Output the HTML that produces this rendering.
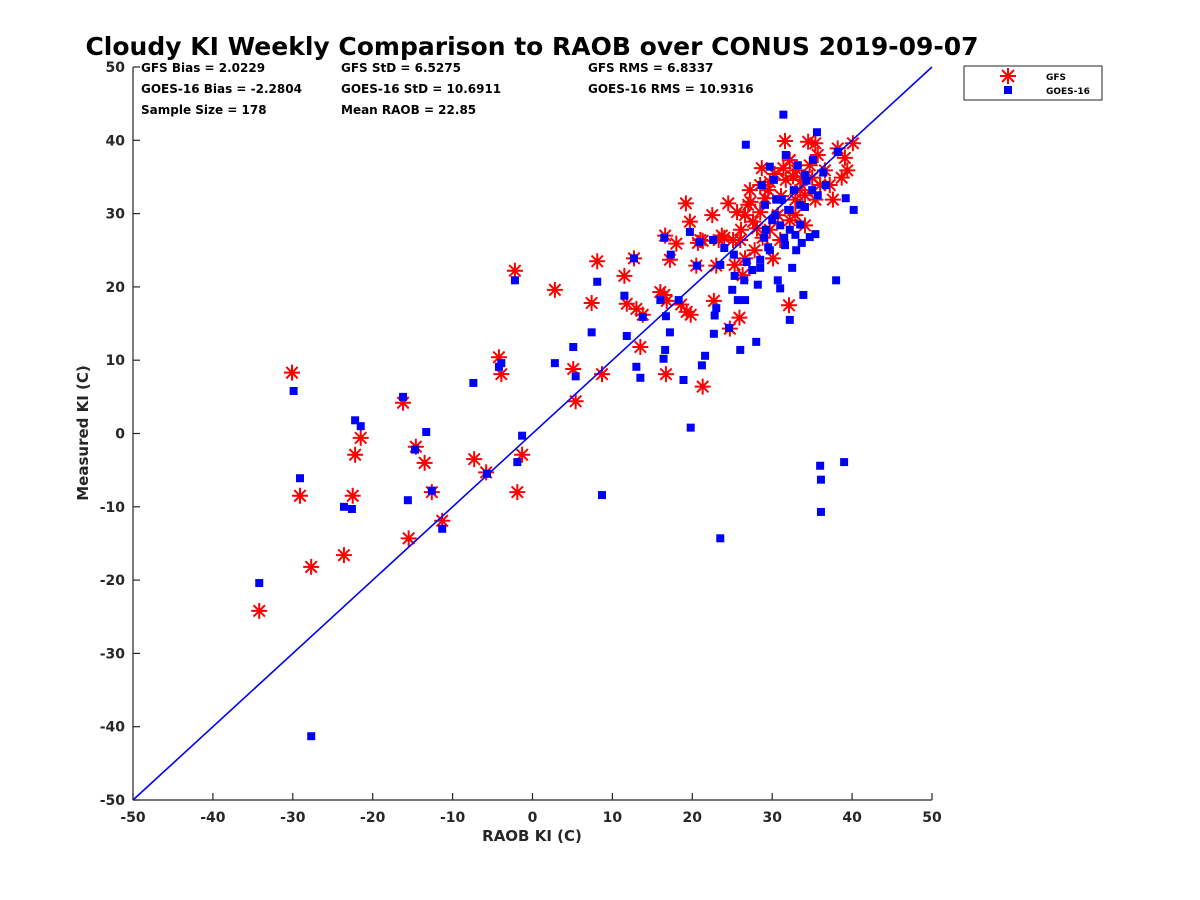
<!DOCTYPE html>
<html><head><meta charset="utf-8"><style>
body{margin:0;background:#fff}
svg{display:block;font-family:"DejaVu Sans","Liberation Sans",sans-serif;font-weight:bold}
</style></head><body>
<svg id="chart" width="1200" height="900" viewBox="0 0 1200 900">
<rect width="1200" height="900" fill="#fff"/>
<text x="532" y="55" text-anchor="middle" font-size="25" fill="#000">Cloudy KI Weekly Comparison to RAOB over CONUS 2019-09-07</text>
<g id="plot"></g>
<g font-size="12" fill="#000">
<text x="141" y="72">GFS Bias = 2.0229</text>
<text x="141" y="93">GOES-16 Bias = -2.2804</text>
<text x="141" y="114">Sample Size = 178</text>
<text x="341" y="72">GFS StD = 6.5275</text>
<text x="341" y="93">GOES-16 StD = 10.6911</text>
<text x="341" y="114">Mean RAOB = 22.85</text>
<text x="588" y="72">GFS RMS = 6.8337</text>
<text x="588" y="93">GOES-16 RMS = 10.9316</text>
</g>
<text x="532" y="841" text-anchor="middle" font-size="15" fill="#262626">RAOB KI (C)</text>
<text transform="translate(88,433) rotate(-90)" text-anchor="middle" font-size="15" fill="#262626">Measured KI (C)</text>
<g>
<rect x="964" y="66" width="138" height="34" fill="#fff" stroke="#262626" stroke-width="1"/>
<g stroke="#f00" stroke-width="2">
<line x1="1008" y1="68" x2="1008" y2="84"/><line x1="1000" y1="76" x2="1016" y2="76"/>
<line x1="1002" y1="70" x2="1014" y2="82"/><line x1="1002" y1="82" x2="1014" y2="70"/>
</g>
<text x="1046" y="80" font-size="9" fill="#000">GFS</text>
<rect x="1004" y="86" width="8" height="8" fill="#00f"/>
<text x="1046" y="94" font-size="9" fill="#000">GOES-16</text>
</g>
</svg>
<script>
const xTicks=[-50,-40,-30,-20,-10,0,10,20,30,40,50];
const yTicks=[-50,-40,-30,-20,-10,0,10,20,30,40,50];
const gfsX=[-30.1,-29.1,-27.7,-34.2,-23.6,-22.5,-22.2,-21.5,-16.2,-15.5,-14.6,-13.5,-12.6,-11.3,-7.3,-5.8,-4.2,-3.9,-2.2,-1.9,-1.3,2.8,5.1,5.4,7.4,8.1,8.7,11.5,11.8,12.7,13,13.5,13.8,16,16.5,16.7,16.8,16.6,17.2,18,18.6,19.2,19.3,19.8,19.7,20.5,20.7,21.3,21.3,22.5,22.7,23,23.3,23.7,24,24.5,24.7,25.1,25.6,25.9,26.1,26.3,26.6,27,27.3,27.6,28.1,28.5,28.8,29.1,28.7,29.5,29.7,30.1,30.3,30.7,31.1,31.4,31.6,31.7,32.1,32.2,32.6,32.9,33.1,33.5,33.7,34.1,34.5,34.7,35,35.4,35.7,36,36.6,37.6,38.2,39.1,39.4,40.1,26,27.8,29.7,31,32.2,28.5,26.6,25.3,21,27.2,32.9,35.4,34.1,37.2,38.7];
const gfsY=[8.3,-8.5,-18.2,-24.2,-16.6,-8.5,-2.9,-0.6,4.2,-14.3,-1.8,-4,-8,-11.9,-3.5,-5.3,10.4,8.1,22.2,-8,-2.9,19.6,8.8,4.4,17.8,23.5,8.1,21.5,17.7,23.9,17,11.8,16.2,19.3,18.9,8.1,18.1,27,23.7,25.9,17.6,31.4,16.6,16.2,28.9,22.9,26,6.4,26.3,29.8,18.1,22.9,26.4,27,26.7,31.4,14.3,26.4,30.2,15.8,27.8,21.6,29.8,31.2,31.6,28.9,28,30.2,26.7,32.1,36.2,33.2,34.3,23.9,35.4,29.8,32.4,36.2,39.9,34.6,17.5,37.3,35.1,31.9,35.9,33.2,34.6,32.5,39.8,36.6,34.9,39.6,38,33.9,35.9,31.9,38.9,37.6,35.9,39.6,26.4,25,27.8,26.4,29.1,33.9,23.9,23,26.4,33.2,29.8,31.9,28.4,33.9,34.9];
const goesX=[-29.9,-29.1,-27.7,-34.2,-23.6,-22.6,-22.2,-21.5,-16.2,-15.6,-14.7,-13.3,-12.6,-11.3,-7.4,-5.7,-4.2,-3.9,-2.2,-1.9,-1.3,2.8,5.1,5.4,7.4,8.1,8.7,11.5,11.8,12.7,13,13.5,13.8,16,16.4,16.6,16.7,16.5,17.2,17.3,18.3,18.9,19.7,19.8,20.6,20.9,21.2,21.6,22.6,22.7,22.8,23,23.5,23.5,24,24.6,25,25.2,25.3,25.7,26,26.5,26.6,26.7,26.8,27.5,28,28.2,28.5,28.7,29,29.2,29.5,29.7,30,30.2,30.5,30.7,31,31.4,31.5,31.7,32,32.2,32.2,32.5,32.7,33,33.2,33.5,33.7,33.9,34.1,34.3,34.7,35.1,35.4,35.6,35.7,36,36.1,36.1,36.4,36.7,38,38.2,39,39.2,40.2,29.1,30.4,31.2,32.2,33.5,29.7,28.5,31.6,32.9,31,34.1,35];
const goesY=[5.8,-6.1,-41.3,-20.4,-10,-10.3,1.8,1,5,-9.1,-2.2,0.2,-7.8,-13,6.9,-5.5,9.1,9.6,20.9,-3.9,-0.3,9.6,11.8,7.8,13.8,20.7,-8.4,18.8,13.3,23.9,9.1,7.6,15.9,18.2,10.2,11.4,16,26.7,13.8,24.4,18.2,7.3,27.5,0.8,22.9,26.1,9.3,10.6,26.4,13.6,16.1,17.1,-14.3,23,25.3,14.4,19.6,24.4,21.5,18.2,11.4,20.9,18.2,39.4,23.4,22.3,12.5,20.3,22.6,33.9,26.7,27.8,25.4,36.4,29.1,34.6,31.9,20.9,19.8,43.5,26.7,38,30.5,27.8,15.5,22.6,33.2,25,36.6,28.5,26,18.9,30.9,34.5,26.8,37.3,27.2,41.1,32.5,-4.4,-6.3,-10.7,35.6,33.9,20.9,38.4,-3.9,32.1,30.5,31.2,29.8,31.9,30.5,31.2,25,23.7,25.7,27.1,28.4,35.3,33.2];

const NS='http://www.w3.org/2000/svg';
const X0=133,X1=932,Y0=800,Y1=67;
const sx=v=>X0+(v+50)/100*(X1-X0);
const sy=v=>Y0-(v+50)/100*(Y0-Y1);
const plot=document.getElementById('plot');
function mk(tag,attrs,parent){const e=document.createElementNS(NS,tag);for(const k in attrs)e.setAttribute(k,attrs[k]);(parent||plot).appendChild(e);return e;}

const ax=mk('g',{stroke:'#262626','stroke-width':1.2});


mk('line',{x1:X0,y1:Y1,x2:X0,y2:Y0},ax);
mk('line',{x1:X0,y1:Y0,x2:X1,y2:Y0},ax);
xTicks.forEach(t=>{
  mk('line',{x1:sx(t),y1:Y0,x2:sx(t),y2:Y0-7},ax);
  const tx=mk('text',{x:sx(t),y:Y0+22,'text-anchor':'middle','font-size':14,fill:'#262626',stroke:'none'});
  tx.textContent=t;
  
  
});
yTicks.forEach(t=>{
  mk('line',{x1:X0,y1:sy(t),x2:X0+7,y2:sy(t)},ax);
  const tx=mk('text',{x:X0-8,y:sy(t)+5,'text-anchor':'end','font-size':14,fill:'#262626',stroke:'none'});
  tx.textContent=t;
  
  
});

const gg=mk('g',{stroke:'#f00','stroke-width':2});


gfsX.forEach((v,i)=>{
  const cx=sx(v),cy=sy(gfsY[i]),r=8,d=5.7;
  const s=mk('path',{d:`M${cx} ${cy-r}V${cy+r}M${cx-r} ${cy}H${cx+r}M${cx-d} ${cy-d}L${cx+d} ${cy+d}M${cx-d} ${cy+d}L${cx+d} ${cy-d}`},gg);
  
  
});
const bg=mk('g',{fill:'#00f'});


goesX.forEach((v,i)=>{
  const r=mk('rect',{x:sx(v)-4,y:sy(goesY[i])-4,width:8,height:8},bg);
  
  
});
const ln=mk('line',{x1:sx(-50),y1:sy(-50),x2:sx(50),y2:sy(50),stroke:'#00f','stroke-width':1.6});


</script>
</body></html>
